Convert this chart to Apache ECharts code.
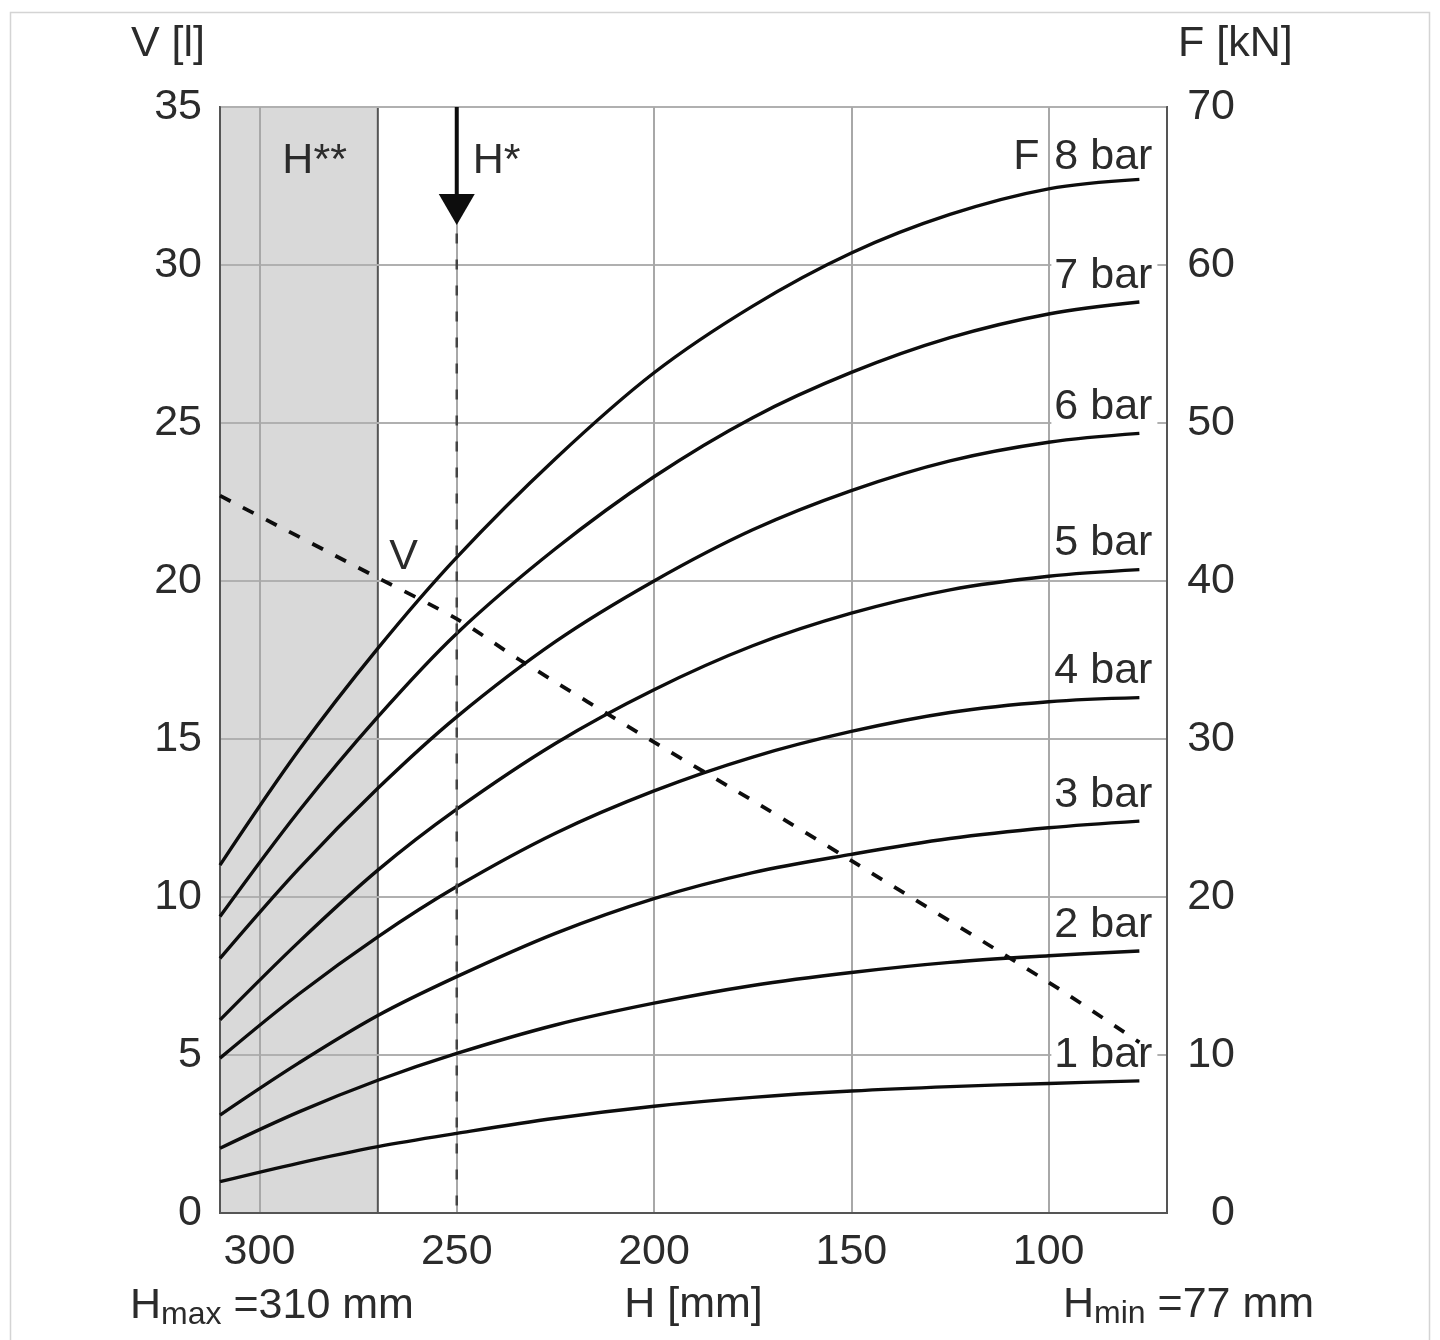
<!DOCTYPE html>
<html>
<head>
<meta charset="utf-8">
<script src="https://cdn.jsdelivr.net/npm/echarts@6/dist/echarts.min.js"></script>
<style>
html,body{margin:0;padding:0;background:#fff;}
#chart{width:1440px;height:1340px;}
</style>
</head>
<body>
<div id="chart"></div>
<script>
// ---------- data ----------
// stroke heights H [mm] at which the force curves were read
const heights = [310, 290, 270, 250, 225, 200, 175, 150, 125, 100, 77];
// force F [kN] per pressure
const force1bar = [1.98, 3.16, 4.20, 5.04, 6.00, 6.76, 7.32, 7.72, 8.00, 8.20, 8.36];
const force2bar = [4.10, 6.40, 8.40, 10.10, 11.90, 13.28, 14.40, 15.22, 15.86, 16.28, 16.58];
const force3bar = [6.20, 9.50, 12.50, 14.96, 17.70, 19.90, 21.54, 22.70, 23.70, 24.38, 24.80];
const force4bar = [9.80, 13.86, 17.48, 20.66, 24.04, 26.72, 28.86, 30.48, 31.68, 32.36, 32.62];
const force5bar = [12.22, 17.16, 21.70, 25.56, 29.72, 33.12, 35.90, 37.96, 39.44, 40.30, 40.72];
const force6bar = [16.12, 21.80, 26.88, 31.40, 36.16, 40.00, 43.24, 45.72, 47.60, 48.78, 49.34];
const force7bar = [18.76, 25.44, 31.40, 36.68, 42.04, 46.60, 50.34, 53.20, 55.40, 56.90, 57.66];
const force8bar = [22.02, 29.30, 35.74, 41.50, 47.74, 53.18, 57.40, 60.76, 63.20, 64.82, 65.42];
const pressureNames = ['1 bar', '2 bar', '3 bar', '4 bar', '5 bar', '6 bar', '7 bar', '8 bar'];
const forces = [force1bar, force2bar, force3bar, force4bar, force5bar, force6bar, force7bar, force8bar];

// volume V [l] (dashed line)
const volumeHeights = [310, 270, 250, 234, 200, 173, 150, 100, 77];
const volume = [22.7, 20.1, 18.8, 17.5, 14.9, 12.9, 11.15, 7.3, 5.4];

// axes
const xTicks = [300, 250, 200, 150, 100];
const xRange = [70, 310];
const vRange = [0, 35];
const fRange = [0, 70];

// annotations
const shadedRange = [310, 270];   // H** zone
const hStar = 250;                // H*
const arrowTop = 35, arrowHead = 31.76, dashTop = 31.0;
const hMaxText = 310, hMinText = 77;

// ---------- styles ----------
const FONT = '"Liberation Sans", Arial, Helvetica, sans-serif';
const TXT = '#2b2b2b';
const FS = 43;
const AXIS_COLOR = '#555';
const GRID_COLOR = '#b0b0b0';

const chart = echarts.init(document.getElementById('chart'), null, {renderer: 'canvas'});

const series = [];

// shaded zone + vertical grid lines + H** label
series.push({
  type: 'line',
  data: [],
  xAxisIndex: 0, yAxisIndex: 0,
  markArea: {
    z: 1,
    silent: true,
    itemStyle: {color: '#d9d9d9', borderColor: AXIS_COLOR, borderWidth: 2},
    data: [[{xAxis: shadedRange[0]}, {xAxis: shadedRange[1]}]]
  },
  markLine: {
    z: 2,
    silent: true,
    symbol: 'none',
    label: {show: false},
    lineStyle: {color: '#a8a8a8', width: 2, type: 'solid'},
    data: xTicks.map(v => ({xAxis: v}))
  },
  markPoint: {
    z: 5,
    silent: true,
    symbol: 'circle', symbolSize: 1,
    itemStyle: {color: 'rgba(0,0,0,0)'},
    data: [{
      coord: [294.2, 33.3],
      label: {show: true, formatter: 'H**', position: 'inside', align: 'left',
              fontSize: FS, color: TXT, fontFamily: FONT}
    }]
  }
});

// force curves
forces.forEach((f, i) => {
  const last = f.length - 1;
  const dy = (i === forces.length - 1) ? -22 : -26;
  const mpData = [{
    coord: [heights[last], f[last]],
    label: {show: true, formatter: pressureNames[i], position: 'inside', align: 'center',
            offset: [-35, dy], fontSize: FS, color: TXT, fontFamily: FONT,
            backgroundColor: '#fff', padding: [0, 5, 0, 3], lineHeight: 40}
  }];
  if (i === forces.length - 1) {
    mpData.push({
      coord: [heights[last], f[last]],
      label: {show: true, formatter: 'F', position: 'inside', align: 'center',
              offset: [-113, dy], fontSize: FS, color: TXT, fontFamily: FONT}
    });
  }
  series.push({
    type: 'line',
    name: pressureNames[i],
    xAxisIndex: 0, yAxisIndex: 1,
    z: 3,
    data: heights.map((h, k) => [h, f[k]]),
    smooth: 0.35,
    symbol: 'none',
    lineStyle: {color: '#0d0d0d', width: 3.4},
    markPoint: {
      z: 5, silent: true,
      symbol: 'circle', symbolSize: 1,
      itemStyle: {color: 'rgba(0,0,0,0)'},
      data: mpData
    }
  });
});

// volume dashed line
series.push({
  type: 'line',
  name: 'V',
  xAxisIndex: 0, yAxisIndex: 0,
  z: 7,
  data: volumeHeights.map((h, k) => [h, volume[k]]),
  smooth: 0.3,
  symbol: 'none',
  lineStyle: {color: '#0d0d0d', width: 3.8, type: [12, 14]},
  markPoint: {
    z: 5, silent: true,
    symbol: 'circle', symbolSize: 1,
    itemStyle: {color: 'rgba(0,0,0,0)'},
    data: [{
      coord: [263.5, 20.75],
      label: {show: true, formatter: 'V', position: 'inside', align: 'center',
              fontSize: FS, color: TXT, fontFamily: FONT}
    }]
  }
});

// H* arrow shaft + label
series.push({
  type: 'line',
  xAxisIndex: 0, yAxisIndex: 0,
  z: 4,
  data: [[hStar, arrowTop], [hStar, arrowHead]],
  symbol: 'none',
  lineStyle: {color: '#0d0d0d', width: 4},
  markPoint: {
    z: 5, silent: true,
    symbol: 'circle', symbolSize: 1,
    itemStyle: {color: 'rgba(0,0,0,0)'},
    data: [{
      coord: [hStar, 33.3],
      label: {show: true, formatter: 'H*', position: 'inside', align: 'left',
              offset: [16, 0], fontSize: FS, color: TXT, fontFamily: FONT}
    }]
  }
});
// arrow head
series.push({
  type: 'scatter',
  xAxisIndex: 0, yAxisIndex: 0,
  z: 4,
  data: [[hStar, arrowHead]],
  symbol: 'triangle',
  symbolSize: [36, 31],
  symbolRotate: 180,
  itemStyle: {color: '#0d0d0d', opacity: 1},
  silent: true
});
// H* dashed vertical
series.push({
  type: 'line',
  xAxisIndex: 0, yAxisIndex: 0,
  z: 3,
  data: [[hStar, dashTop], [hStar, vRange[0]]],
  symbol: 'none',
  lineStyle: {color: '#444', width: 2.5, type: [10, 16]}
});

const richBottom = {
  h: {fontSize: FS, lineHeight: 50, color: TXT, fontFamily: FONT, fontWeight: 'normal'},
  s: {fontSize: 32, lineHeight: 26, verticalAlign: 'bottom', color: TXT, fontFamily: FONT, fontWeight: 'normal'}
};

const option = {
  animation: false,
  backgroundColor: '#fff',
  textStyle: {fontFamily: FONT, color: TXT},
  graphic: [{
    type: 'rect', silent: true,
    shape: {x: 10.5, y: 12.5, width: 1419, height: 1340},
    style: {fill: 'none', stroke: '#d4d4d4', lineWidth: 1.5}
  }],
  title: [
    {
      left: 130, top: 1281, padding: 0,
      text: '{h|H}{s|max}{h| =' + hMaxText + ' mm}',
      textStyle: {fontWeight: 'normal', rich: richBottom}
    },
    {
      left: 1063, top: 1280, padding: 0,
      text: '{h|H}{s|min}{h| =' + hMinText + ' mm}',
      textStyle: {fontWeight: 'normal', rich: richBottom}
    }
  ],
  grid: {
    left: 220, right: 273, top: 107, bottom: 127,
    show: true, borderColor: AXIS_COLOR, borderWidth: 2, backgroundColor: 'transparent'
  },
  xAxis: [{
    type: 'value',
    min: xRange[0], max: xRange[1],
    inverse: true,
    z: 2,
    axisLine: {show: true, onZero: false, lineStyle: {color: AXIS_COLOR, width: 2}},
    axisTick: {show: false},
    splitLine: {show: false},
    axisLabel: {customValues: xTicks, fontSize: FS, color: TXT, margin: 18, fontFamily: FONT},
    name: 'H [mm]',
    nameLocation: 'middle',
    nameGap: 71,
    nameTextStyle: {fontSize: FS, color: TXT, fontFamily: FONT}
  }],
  yAxis: [
    {
      type: 'value', position: 'left',
      min: vRange[0], max: vRange[1], interval: 5,
      z: 2,
      axisLine: {show: true, lineStyle: {color: AXIS_COLOR, width: 2}},
      axisTick: {show: false},
      splitLine: {show: true, lineStyle: {color: GRID_COLOR, width: 2}},
      axisLabel: {fontSize: FS, color: TXT, margin: 18, fontFamily: FONT},
      name: 'V [l]', nameLocation: 'end', nameGap: 41,
      nameTextStyle: {fontSize: FS, color: TXT, align: 'right', padding: [0, 15, 0, 0], fontFamily: FONT}
    },
    {
      type: 'value', position: 'right',
      min: fRange[0], max: fRange[1], interval: 10,
      z: 2,
      axisLine: {show: true, lineStyle: {color: AXIS_COLOR, width: 2}},
      axisTick: {show: false},
      splitLine: {show: false},
      axisLabel: {fontSize: FS, color: TXT, margin: 68, align: 'right', fontFamily: FONT},
      name: 'F [kN]', nameLocation: 'end', nameGap: 41,
      nameTextStyle: {fontSize: FS, color: TXT, align: 'left', padding: [0, 0, 0, 11], fontFamily: FONT}
    }
  ],
  series: series
};

chart.setOption(option);
</script>
</body>
</html>
